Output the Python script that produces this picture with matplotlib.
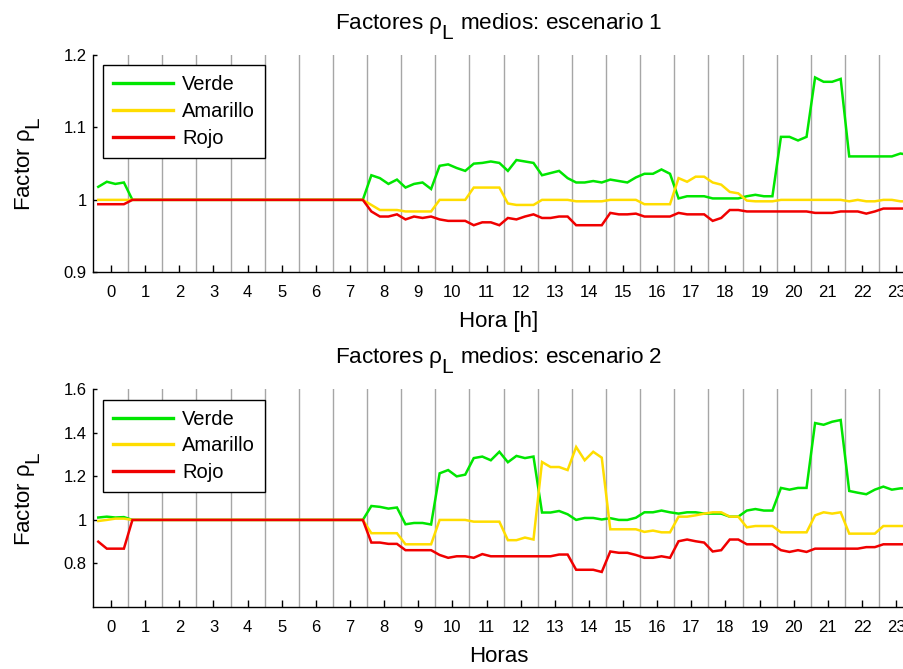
import matplotlib
matplotlib.use('Agg')
import matplotlib.pyplot as plt
import numpy as np

# MATLAB-like subscripts: nearly full size and dropped lower
try:
    import matplotlib._mathtext as _mt
    _mt.SHRINK_FACTOR = 0.93
    _mt.FontConstantsBase.sub1 = 0.9
except Exception:
    pass

plt.rcParams['font.family'] = ['Liberation Sans', 'DejaVu Sans']
plt.rcParams['mathtext.fontset'] = 'custom'
plt.rcParams['mathtext.rm'] = 'Liberation Sans'
plt.rcParams['mathtext.it'] = 'Liberation Sans'
plt.rcParams['mathtext.sf'] = 'Liberation Sans'

# ---------------- data (15-min resolution, 4 values per hour) ----------------
hour_labels = [str(h) for h in range(24)]
series_names = ['Verde', 'Amarillo', 'Rojo']

verde_1 = [
    1.018, 1.025, 1.022, 1.024,   # 0
    1.000, 1.000, 1.000, 1.000,   # 1
    1.000, 1.000, 1.000, 1.000,   # 2
    1.000, 1.000, 1.000, 1.000,   # 3
    1.000, 1.000, 1.000, 1.000,   # 4
    1.000, 1.000, 1.000, 1.000,   # 5
    1.000, 1.000, 1.000, 1.000,   # 6
    1.000, 1.000, 1.000, 1.000,   # 7
    1.034, 1.030, 1.022, 1.028,   # 8
    1.017, 1.022, 1.024, 1.015,   # 9
    1.047, 1.049, 1.044, 1.040,   # 10
    1.050, 1.051, 1.053, 1.051,   # 11
    1.040, 1.055, 1.053, 1.051,   # 12
    1.034, 1.037, 1.040, 1.030,   # 13
    1.024, 1.024, 1.026, 1.024,   # 14
    1.028, 1.026, 1.024, 1.031,   # 15
    1.036, 1.036, 1.042, 1.036,   # 16
    1.002, 1.005, 1.005, 1.005,   # 17
    1.002, 1.002, 1.002, 1.002,   # 18
    1.005, 1.007, 1.005, 1.005,   # 19
    1.087, 1.087, 1.082, 1.087,   # 20
    1.169, 1.163, 1.163, 1.167,   # 21
    1.060, 1.060, 1.060, 1.060,   # 22
    1.060, 1.060, 1.064, 1.062,   # 23
]
amarillo_1 = [
    1.000, 1.000, 1.000, 1.000,
    1.000, 1.000, 1.000, 1.000,
    1.000, 1.000, 1.000, 1.000,
    1.000, 1.000, 1.000, 1.000,
    1.000, 1.000, 1.000, 1.000,
    1.000, 1.000, 1.000, 1.000,
    1.000, 1.000, 1.000, 1.000,
    1.000, 1.000, 1.000, 1.000,
    0.993, 0.986, 0.986, 0.986,
    0.984, 0.984, 0.984, 0.984,
    1.000, 1.000, 1.000, 1.000,
    1.017, 1.017, 1.017, 1.017,
    0.995, 0.993, 0.993, 0.993,
    1.000, 1.000, 1.000, 1.000,
    0.998, 0.998, 0.998, 0.998,
    1.000, 1.000, 1.000, 1.000,
    0.994, 0.994, 0.994, 0.994,
    1.030, 1.025, 1.032, 1.032,
    1.024, 1.021, 1.011, 1.009,
    0.999, 0.998, 0.998, 0.998,
    1.000, 1.000, 1.000, 1.000,
    1.000, 1.000, 1.000, 1.000,
    0.998, 1.000, 0.998, 0.998,
    1.000, 1.000, 0.998, 0.998,
]
rojo_1 = [
    0.994, 0.994, 0.994, 0.994,
    1.000, 1.000, 1.000, 1.000,
    1.000, 1.000, 1.000, 1.000,
    1.000, 1.000, 1.000, 1.000,
    1.000, 1.000, 1.000, 1.000,
    1.000, 1.000, 1.000, 1.000,
    1.000, 1.000, 1.000, 1.000,
    1.000, 1.000, 1.000, 1.000,
    0.984, 0.977, 0.977, 0.980,
    0.973, 0.977, 0.975, 0.977,
    0.973, 0.971, 0.971, 0.971,
    0.965, 0.969, 0.969, 0.965,
    0.975, 0.973, 0.977, 0.980,
    0.975, 0.975, 0.977, 0.977,
    0.965, 0.965, 0.965, 0.965,
    0.982, 0.980, 0.980, 0.981,
    0.977, 0.977, 0.977, 0.977,
    0.982, 0.980, 0.980, 0.980,
    0.971, 0.975, 0.986, 0.986,
    0.984, 0.984, 0.984, 0.984,
    0.984, 0.984, 0.984, 0.984,
    0.982, 0.982, 0.982, 0.984,
    0.984, 0.984, 0.981, 0.984,
    0.988, 0.988, 0.988, 0.988,
]

verde_2 = [
    1.011, 1.015, 1.011, 1.013,
    1.000, 1.000, 1.000, 1.000,
    1.000, 1.000, 1.000, 1.000,
    1.000, 1.000, 1.000, 1.000,
    1.000, 1.000, 1.000, 1.000,
    1.000, 1.000, 1.000, 1.000,
    1.000, 1.000, 1.000, 1.000,
    1.000, 1.000, 1.000, 1.000,
    1.064, 1.060, 1.052, 1.057,
    0.980, 0.986, 0.986, 0.979,
    1.214, 1.229, 1.200, 1.208,
    1.284, 1.291, 1.274, 1.313,
    1.265, 1.294, 1.284, 1.291,
    1.034, 1.034, 1.041, 1.026,
    1.000, 1.009, 1.009, 1.002,
    1.008, 1.000, 1.000, 1.010,
    1.035, 1.035, 1.043, 1.035,
    1.029, 1.035, 1.035, 1.029,
    1.029, 1.029, 1.015, 1.015,
    1.043, 1.050, 1.043, 1.043,
    1.147, 1.139, 1.147, 1.147,
    1.445, 1.437, 1.451, 1.459,
    1.133, 1.125, 1.118, 1.139,
    1.153, 1.139, 1.145, 1.145,
]
amarillo_2 = [
    0.995, 1.000, 1.006, 1.006,
    1.000, 1.000, 1.000, 1.000,
    1.000, 1.000, 1.000, 1.000,
    1.000, 1.000, 1.000, 1.000,
    1.000, 1.000, 1.000, 1.000,
    1.000, 1.000, 1.000, 1.000,
    1.000, 1.000, 1.000, 1.000,
    1.000, 1.000, 1.000, 1.000,
    0.939, 0.939, 0.939, 0.939,
    0.888, 0.888, 0.888, 0.888,
    1.000, 1.000, 1.000, 1.000,
    0.992, 0.992, 0.992, 0.992,
    0.907, 0.907, 0.919, 0.910,
    1.266, 1.243, 1.243, 1.229,
    1.335, 1.274, 1.313, 1.286,
    0.957, 0.957, 0.957, 0.957,
    0.945, 0.951, 0.943, 0.943,
    1.015, 1.015, 1.021, 1.029,
    1.035, 1.035, 1.015, 1.015,
    0.966, 0.972, 0.972, 0.972,
    0.943, 0.943, 0.943, 0.943,
    1.021, 1.035, 1.029, 1.035,
    0.937, 0.937, 0.937, 0.937,
    0.972, 0.972, 0.972, 0.972,
]
rojo_2 = [
    0.900, 0.868, 0.868, 0.868,
    1.000, 1.000, 1.000, 1.000,
    1.000, 1.000, 1.000, 1.000,
    1.000, 1.000, 1.000, 1.000,
    1.000, 1.000, 1.000, 1.000,
    1.000, 1.000, 1.000, 1.000,
    1.000, 1.000, 1.000, 1.000,
    1.000, 1.000, 1.000, 1.000,
    0.896, 0.896, 0.890, 0.890,
    0.861, 0.861, 0.861, 0.861,
    0.839, 0.826, 0.833, 0.833,
    0.826, 0.843, 0.833, 0.833,
    0.833, 0.833, 0.833, 0.833,
    0.833, 0.833, 0.841, 0.841,
    0.771, 0.771, 0.771, 0.761,
    0.855, 0.849, 0.849, 0.839,
    0.826, 0.826, 0.833, 0.826,
    0.902, 0.910, 0.902, 0.896,
    0.855, 0.861, 0.910, 0.910,
    0.888, 0.888, 0.888, 0.888,
    0.861, 0.853, 0.861, 0.853,
    0.868, 0.868, 0.868, 0.868,
    0.868, 0.868, 0.875, 0.875,
    0.888, 0.888, 0.888, 0.888,
]

# time axis: quarter-hour samples centred on each hour
t = np.arange(len(verde_1)) / 4.0 - 0.375

colors = ['#00e600', '#ffdd00', '#f00000']

W, H = 904, 669
fig = plt.figure(figsize=(W / 100, H / 100), dpi=100)

def make_axes(top_px, bottom_px):
    return fig.add_axes([93 / W, 1 - bottom_px / H, (W - 93) / W, (bottom_px - top_px) / H])

panels = [
    dict(ax=make_axes(55, 272.3), data=[verde_1, amarillo_1, rojo_1], ylim=(0.9, 1.2),
         yticks=[0.9, 1.0, 1.1, 1.2], yticklabels=['0.9', '1', '1.1', '1.2'],
         title=r'Factores $\rho_{\mathrm{L}}$ medios: escenario 1', xlabel='Hora [h]'),
    dict(ax=make_axes(389.3, 607), data=[verde_2, amarillo_2, rojo_2], ylim=(0.6, 1.6),
         yticks=[0.8, 1.0, 1.2, 1.4, 1.6], yticklabels=['0.8', '1', '1.2', '1.4', '1.6'],
         title=r'Factores $\rho_{\mathrm{L}}$ medios: escenario 2', xlabel='Horas'),
]

for p in panels:
    ax = p['ax']
    for h in range(23):
        ax.axvline(h + 0.5, color='#a6a6a6', lw=1.0, zorder=1)
    for vals, c, name in zip(p['data'], colors, series_names):
        ax.plot(t, vals, color=c, lw=1.8, label=name, zorder=3, solid_joinstyle='miter')
    ax.set_xlim(-0.53, 23.23)
    ax.set_ylim(*p['ylim'])
    ax.set_xticks(range(24))
    ax.set_xticklabels(hour_labels)
    ax.set_yticks(p['yticks'])
    ax.set_yticklabels(p['yticklabels'])
    ax.spines['top'].set_visible(False)
    ax.spines['right'].set_visible(False)
    for s in ('left', 'bottom'):
        ax.spines[s].set_linewidth(1.0)
        ax.spines[s].set_color('black')
    ax.tick_params(axis='x', direction='in', length=5, width=1, pad=9, labelsize=12)
    ax.tick_params(axis='y', direction='in', length=3, width=1, pad=4.5, labelsize=12)
    ax.set_title(p['title'], fontsize=16.2, pad=18.7)
    ax.set_xlabel(p['xlabel'], fontsize=16)
    ax.xaxis.set_label_coords(0.5, -0.18)
    ax.set_ylabel(r'Factor $\rho_{\mathrm{L}}$', fontsize=16)
    ax.yaxis.set_label_coords(-0.0617, 0.5)
    leg = ax.legend(loc='upper left', bbox_to_anchor=(0.012, 0.953), borderaxespad=0,
                    fontsize=14.5, frameon=True, fancybox=False, framealpha=1,
                    handlelength=3.0, handletextpad=0.45, labelspacing=0.38,
                    borderpad=0.5)
    leg.get_frame().set_edgecolor('black')
    leg.get_frame().set_linewidth(1.0)
    for ln in leg.get_lines():
        ln.set_linewidth(2.4)

fig.savefig('out.png', dpi=100)
